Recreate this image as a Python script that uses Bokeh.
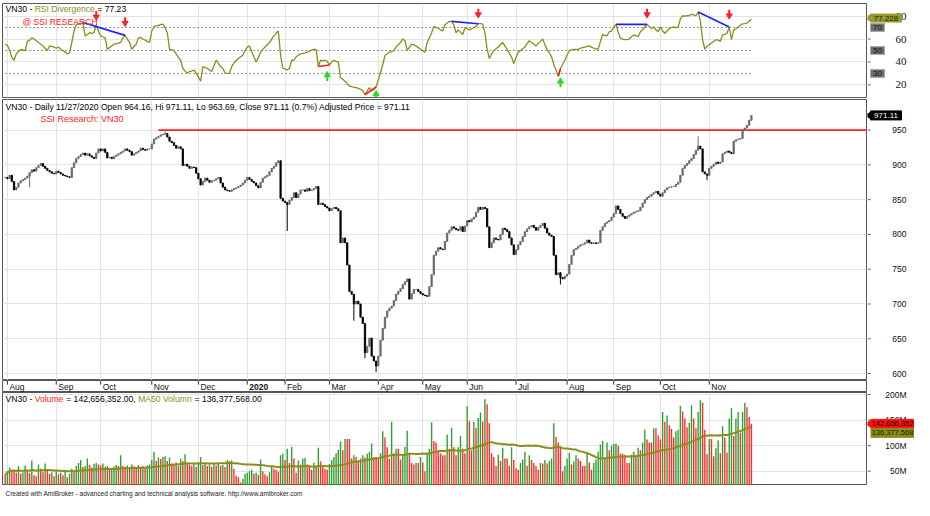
import numpy as np
import pandas as pd
from bokeh.plotting import figure
from bokeh.layouts import column, row
from bokeh.models import Range1d, FixedTicker, Label, Grid, ColumnDataSource
from bokeh.core.properties import value
from bokeh.embed import file_html
from bokeh.resources import INLINE

# ---------------- data ----------------
first_day, last_day = "2019-07-31", "2020-11-27"
holidays = ["2019-09-02", "2020-01-01", "2020-01-23", "2020-01-24", "2020-01-27",
            "2020-01-28", "2020-01-29", "2020-04-02", "2020-04-30", "2020-05-01", "2020-09-02"]

close = [882, 880, 885, 876, 864, 868, 874, 877, 879, 881,
         884, 889, 893, 891, 896, 899, 902, 898, 895, 892,
         890, 888, 887, 891, 889, 887, 885, 884, 883, 882,
         896, 903, 909, 912, 915, 917, 914, 916, 913, 911,
         909, 917, 923, 920, 923, 918, 910, 911, 909, 912,
         914, 916, 918, 920, 923, 921, 919, 914, 916, 918,
         920, 924, 922, 921, 923, 923, 930, 937, 939, 941,
         943, 944, 945, 940, 934, 932, 928, 924, 926, 923,
         899, 901, 898, 895, 897, 896, 888, 880, 871, 876,
         881, 878, 875, 877, 878, 880, 882, 874, 868, 864,
         863, 862, 864, 866, 867, 869, 871, 874, 878, 882,
         879, 876, 874, 870, 867, 875, 881, 883, 885, 890,
         895, 898, 903, 906, 852, 848, 846, 843, 849, 853,
         860, 853, 858, 864, 864, 862, 866, 863, 864, 866,
         869, 843, 845, 843, 840, 838, 834, 837, 839, 837,
         834, 788, 795, 788, 756, 718, 714, 700, 704, 700,
         681, 672, 630, 639, 651, 625, 618, 611, 625, 648,
         665, 681, 690, 694, 697, 705, 714, 718, 722, 728,
         732, 736, 707, 715, 721, 721, 718, 715, 713, 712,
         711, 725, 742, 770, 776, 781, 779, 778, 790, 802,
         806, 811, 809, 807, 806, 811, 804, 812, 820, 818,
         822, 825, 832, 839, 836, 839, 837, 811, 781, 788,
         795, 793, 792, 800, 809, 807, 804, 795, 785, 771,
         778, 785, 790, 797, 804, 808, 811, 813, 810, 806,
         810, 813, 816, 809, 802, 799, 797, 770, 742, 745,
         738, 736, 740, 743, 757, 770, 778, 780, 783, 785,
         786, 788, 792, 788, 787, 788, 787, 788, 806, 811,
         816, 818, 820, 825, 830, 841, 836, 830, 826, 823,
         826, 828, 830, 832, 833, 834, 839, 845, 850, 853,
         855, 858, 860, 862, 858, 855, 860, 864, 867, 868,
         869, 869, 872, 875, 885, 895, 899, 902, 906, 909,
         915, 921, 927, 923, 890, 887, 885, 895, 898, 901,
         904, 902, 904, 916, 918, 920, 918, 916, 934, 936,
         937, 938, 950, 953, 957, 964.4, 971.11]

# visible wick extremes (index -> price)
low_spikes = {11: 868, 127: 805, 157: 676, 162: 622, 167: 602, 250: 728, 316: 878}
high_spikes = {72: 948, 312: 941}

last_open, last_high, last_low, last_close = 964.16, 971.11, 963.69, 971.11
last_change_pct = 0.7

volume_m = [44, 50, 57, 53, 52, 47, 60, 45, 48, 61,
            50, 46, 71, 42, 40, 63, 55, 48, 65, 52,
            45, 48, 40, 50, 44, 47, 42, 49, 38, 45,
            55, 52, 60, 66, 72, 58, 60, 75, 62, 57,
            64, 66, 63, 61, 65, 58, 60, 54, 56, 59,
            62, 60, 81, 60, 58, 61, 57, 63, 59, 55,
            62, 58, 60, 57, 61, 63, 72, 88, 70, 77,
            74, 78, 79, 70, 77, 65, 62, 67, 60, 75,
            70, 83, 66, 62, 60, 64, 58, 68, 78, 62,
            66, 60, 63, 58, 64, 61, 66, 60, 62, 58,
            72, 70, 71, 55, 41, 38, 28, 35, 45, 47,
            50, 53, 45, 47, 43, 73, 50, 44, 40, 48,
            58, 55, 53, 49, 81, 84, 72, 94, 66, 98,
            75, 47, 71, 63, 75, 76, 63, 58, 53, 67,
            60, 96, 69, 62, 55, 53, 64, 72, 78, 85,
            92, 108, 91, 113, 113, 113, 75, 81, 78, 70,
            75, 81, 77, 84, 88, 104, 78, 78, 75, 85,
            128, 116, 97, 75, 147, 85, 94, 94, 73, 80,
            98, 129, 85, 66, 63, 66, 66, 78, 67, 50,
            85, 94, 146, 109, 106, 90, 85, 81, 81, 122,
            94, 135, 97, 81, 97, 119, 94, 85, 177, 148,
            91, 147, 135, 154, 165, 147, 191, 181, 144, 85,
            78, 60, 82, 70, 96, 75, 75, 60, 97, 72,
            56, 53, 66, 73, 88, 60, 81, 72, 66, 60,
            53, 66, 65, 72, 65, 70, 75, 144, 117, 106,
            97, 50, 60, 75, 86, 63, 69, 81, 75, 70,
            60, 60, 85, 67, 53, 66, 73, 88, 102, 109,
            75, 106, 91, 100, 103, 104, 100, 84, 84, 82,
            66, 66, 82, 88, 80, 96, 91, 106, 131, 112,
            106, 106, 134, 134, 120, 112, 166, 147, 159, 140,
            133, 116, 128, 131, 178, 167, 153, 136, 145, 179,
            153, 134, 166, 189, 184, 131, 83, 113, 113, 79,
            95, 110, 85, 138, 116, 86, 153, 173, 119, 153,
            166, 125, 166, 184, 175, 156, 142.656352]
ma50_last = 136377568

rsi = [55.6, 54.5, 50, 44, 41.5, 47, 49, 51, 50.5, 50,
       58, 59, 61, 60, 58.5, 57, 55.5, 54, 52, 50,
       54, 53.5, 53, 52, 53, 51, 50, 48.6, 47, 48,
       57, 67, 72.5, 73.5, 73, 74.5, 62.7, 64, 65.5, 65,
       65.5, 72.5, 67, 62.7, 62, 61, 51, 52.5, 54, 55.6,
       56, 56.5, 57, 61, 63.2, 60, 57, 51, 53.5, 55.6,
       61, 61.5, 60, 59, 58, 57, 67, 71, 71.5, 72,
       72.5, 73, 70, 65.5, 51, 50.5, 50, 47, 44, 41.5,
       34.5, 32, 30.3, 31.7, 32, 33, 30.3, 27, 23.2, 36,
       35, 34.5, 33, 31.7, 37, 41.5, 38.7, 36, 34.5, 30.3,
       30, 30.3, 36, 39, 41.5, 43, 44.5, 45.8, 50, 53,
       54, 49, 44.4, 40, 44, 48.6, 51, 53, 55, 57,
       60, 62.7, 65, 67, 45.8, 34.5, 34, 33, 34.5, 41.5,
       41.5, 44.4, 46, 47, 47.5, 48, 48.6, 49.5, 50.5, 51,
       51, 36, 41.5, 41, 41.5, 40.5, 37.3, 40, 41.5, 40.5,
       40, 26, 25, 23.2, 21, 19, 18.5, 18, 17.6, 17,
       16.2, 15, 11.4, 14.8, 17.6, 14.8, 16, 18.2, 24.6, 31,
       37.3, 45.8, 47, 48.6, 49, 50, 53, 55, 57, 60,
       58.5, 50, 53, 55.6, 55, 54, 52.5, 51, 50, 48.6,
       57, 61, 65.5, 71, 70, 69.7, 68, 67, 72.5, 74,
       75.4, 75.4, 72.5, 65.5, 68, 66, 64, 69.7, 69, 68,
       69, 70, 71, 73.4, 73.5, 73, 65.5, 51, 43, 47,
       50, 51.5, 53, 55, 57, 54, 51, 47.5, 44.4, 38.7,
       44, 48.6, 50, 51.5, 53, 56, 58.5, 57, 55.6, 54,
       56, 58, 60, 55, 51, 48, 44.4, 38, 33, 27.5,
       34, 38, 41.5, 46, 50, 50.5, 51, 51, 51, 52,
       52.5, 53, 53.5, 54, 53, 52, 51.5, 51, 58, 64,
       63, 63, 66.4, 67, 70.5, 72.8, 66, 60.8, 60, 59.4,
       59.5, 60, 62, 63.6, 63, 62.2, 66.4, 68, 70.5, 72.8,
       71, 69.2, 70.5, 68, 66.4, 70.5, 67, 65, 67, 69.2,
       70, 70.5, 70, 70.5, 77.5, 80.3, 80, 80.5, 80.3, 81.7,
       81, 80.3, 83.6, 76, 59.4, 51.1, 53.9, 55, 56.5, 58,
       59.4, 59, 58, 63.6, 64, 65, 70.5, 59.4, 67.8, 69,
       70.5, 72, 73.3, 73.5, 73.9, 75.5, 77.228]

rsi_levels = [70, 50, 30]
rsi_ticks = [20, 40, 60, 80]
price_ticks = [600, 650, 700, 750, 800, 850, 900, 950]
vol_ticks = [50, 100, 150, 200]
vol_tick_labels = ["50M", "100M", "150M", "200M"]
month_labels = ["Aug", "Sep", "Oct", "Nov", "Dec", "2020", "Feb", "Mar", "Apr",
                "May", "Jun", "Jul", "Aug", "Sep", "Oct", "Nov"]

resistance_level, resistance_from = 950, 69
div_bear = [(35, 54), (201, 213), (275, 289), (312, 326)]   # blue
div_bull = [(141, 146), (162, 167), (249, 250)]              # red
sell_idx, sell_y = [41, 54, 213, 289, 326], [81, 75.5, 83, 83, 82]
buy_idx, buy_y = [145, 167, 250], [27, 10.5, 21.5]
rsi_tag_y = 78.3   # where the RSI value tag sits on the RSI scale
ma_tag_y = 125     # where the MA50 value tag sits on the volume scale

# ---------------- derived ----------------
n = len(close)
assert len(volume_m) == n and len(rsi) == n, (len(close), len(volume_m), len(rsi))
dates = pd.bdate_range(first_day, last_day, freq="C", holidays=holidays)
assert len(dates) == n, len(dates)
idx = np.arange(n)
month_idx = [i for i in range(1, n) if dates[i].month != dates[i - 1].month]

opens = [close[0]] + close[:-1]
opens[-1] = last_open
highs = [max(o, c) for o, c in zip(opens, close)]
lows = [min(o, c) for o, c in zip(opens, close)]
for k, v in high_spikes.items():
    highs[k] = v
for k, v in low_spikes.items():
    lows[k] = v
highs[-1], lows[-1] = last_high, last_low
candle_col = ["#6a6a6a" if c >= o else "#000000" for o, c in zip(opens, close)]

vol_col = ["#2f9e2f" if (i > 0 and volume_m[i] > volume_m[i - 1]) else "#ff2b2b" for i in range(n)]
ma50 = pd.Series(volume_m).rolling(50, min_periods=1).mean().values

# ---------------- styling helpers ----------------
W, LB, FW = 914, 2, 864
MAINW = LB + FW + 1
SIDEW = W - MAINW
SANS = "Liberation Sans"
OLIVE = "#8c8c1c"
GRID = "#e3e3e3"
EDGE = "#555555"
LABEL_X = 39
xr = Range1d(-1.2, 387.8)

AW = {' ': 278, '-': 333, '=': 584, '.': 278, ',': 278, '/': 278, ':': 278, '(': 333, ')': 333,
      '%': 889, '@': 1015, 'A': 667, 'B': 667, 'C': 722, 'D': 722, 'E': 667, 'F': 611, 'G': 778,
      'H': 722, 'I': 278, 'L': 556, 'M': 833, 'N': 722, 'O': 778, 'P': 667, 'R': 722, 'S': 667,
      'V': 667, 'a': 556, 'b': 556, 'c': 500, 'd': 556, 'e': 556, 'g': 556, 'h': 556, 'i': 222,
      'j': 222, 'l': 222, 'm': 833, 'n': 556, 'o': 556, 'p': 556, 'r': 333, 's': 500, 't': 278,
      'u': 556, 'v': 500, 'y': 500}


def tw(s, size):
    return sum(AW.get(ch, 556) for ch in s) / 1000.0 * size


def header(p, segs, x0, y, size):
    x = x0
    for t, col in segs:
        lead = len(t) - len(t.lstrip(" "))
        core = t.strip(" ")
        if core:
            p.add_layout(Label(x=x + tw(" " * lead, size), y=y, x_units="screen", y_units="screen",
                               text=core, text_color=col, text_font=SANS,
                               text_font_size=f"{size}px", text_baseline="middle", text_align="left"))
        x += tw(t, size)


def base(width, height, x_range, y_range, top, bottom, left=0, right=0):
    p = figure(width=width, height=height, x_range=x_range, y_range=y_range, x_axis_location=None,
               y_axis_location=None, toolbar_location=None, output_backend="svg",
               min_border_left=left, min_border_right=right, min_border_top=top,
               min_border_bottom=bottom, background_fill_color="white", border_fill_color="white")
    p.grid.visible = False
    return p


def main_panel(h, yr, ticks, top=0, bottom=0):
    p = base(MAINW, h, xr, yr, top, bottom, left=LB, right=1)
    p.outline_line_color = EDGE
    p.add_layout(Grid(dimension=1, ticker=FixedTicker(ticks=ticks), grid_line_color=GRID))
    p.add_layout(Grid(dimension=0, ticker=FixedTicker(ticks=month_idx), grid_line_color=GRID))
    return p


def side_panel(h, yr, ticks, labels, top=0, bottom=0, font=SANS, size="8.5px"):
    s = base(SIDEW, h, Range1d(0, SIDEW), yr, top, bottom)
    s.outline_line_color = None
    s.segment(x0=[0] * len(ticks), x1=[3] * len(ticks), y0=ticks, y1=ticks, line_color=EDGE)
    s.text(x=[LABEL_X] * len(ticks), y=ticks, text=labels, text_align="right",
           text_baseline="middle", text_font=value(font), text_font_size=size,
           text_color="#111111")
    return s


def tag(s, y, text, cx, w, h, bg, fg, size="8px", border=None, arrow_y=None):
    if arrow_y is not None:
        s.scatter([1.6], [arrow_y], marker="triangle", angle=np.pi / 2, size=7,
                  fill_color=bg, line_color=bg)
    s.rect(x=[cx], y=[y], width=w, height=h, height_units="screen", fill_color=bg,
           line_color=border or bg)
    s.text(x=[cx], y=[y], text=[text], text_align="center", text_baseline="middle",
           text_font=value(SANS), text_font_size=size, text_color=fg)


# ---------------- RSI panel ----------------
ry = Range1d(9, 91)
pr = main_panel(98, ry, rsi_ticks, top=3, bottom=1)
pr.segment(x0=[0] * 3, x1=[n - 1] * 3, y0=rsi_levels, y1=rsi_levels, line_color="#8c8c8c",
           line_dash="2 2", line_width=1)
pr.line(idx, rsi, line_color=OLIVE, line_width=1.3)
pr.segment(x0=[a for a, b in div_bear], y0=[rsi[a] for a, b in div_bear],
           x1=[b for a, b in div_bear], y1=[rsi[b] for a, b in div_bear],
           line_color="#1f1fff", line_width=1.6)
pr.segment(x0=[a for a, b in div_bull], y0=[rsi[a] for a, b in div_bull],
           x1=[b for a, b in div_bull], y1=[rsi[b] for a, b in div_bull],
           line_color="#ff1f1f", line_width=1.6)
pr.segment(x0=sell_idx, x1=sell_idx, y0=[y - 0.5 for y in sell_y], y1=[y + 3.5 for y in sell_y],
           line_color="#ff2020", line_width=2)
pr.scatter(sell_idx, [y - 1.6 for y in sell_y], marker="inverted_triangle", size=6,
           fill_color="#ff2020", line_color="#ff2020")
pr.segment(x0=buy_idx, x1=buy_idx, y0=[y + 0.5 for y in buy_y], y1=[y - 3.5 for y in buy_y],
           line_color="#22dd22", line_width=2)
pr.scatter(buy_idx, [y + 1.6 for y in buy_y], marker="triangle", size=6,
           fill_color="#22dd22", line_color="#22dd22")
header(pr, [("VN30 - ", "#000000"), ("RSI Divergence", OLIVE), (f" = {rsi[-1]:.2f}", "#000000")],
       3, 94 - 5, 8.6)
pr.add_layout(Label(x=20, y=94 - 18, x_units="screen", y_units="screen", text="@ SSI RESEARCH",
                    text_color="#ff2020", text_font=SANS, text_font_size="8.6px",
                    text_baseline="middle"))
sr = side_panel(98, ry, rsi_ticks, [str(t) for t in rsi_ticks], top=3, bottom=1,
                font="Liberation Serif", size="11px")
for lv in rsi_levels:
    tag(sr, lv, str(lv), 10, 14, 8, "#707070", "#111111", size="8px", border="#a8a8a8")
tag(sr, rsi_tag_y, f"{rsi[-1]:.3f}", 18.5, 31, 8, "#9a9a2a", "#1a1a00", arrow_y=rsi_tag_y)

# ---------------- price panel ----------------
py = Range1d(590, 994)
pp = main_panel(282, py, price_ticks, top=1, bottom=0)
src = ColumnDataSource(dict(x=idx, h=highs, l=lows, top=np.maximum(opens, close),
                            bot=np.minimum(opens, close), col=candle_col))
pp.segment(x0=[resistance_from], x1=[xr.end], y0=[resistance_level], y1=[resistance_level],
           line_color="#ff2020", line_width=1.6)
pp.segment(x0="x", y0="l", x1="x", y1="h", line_color="col", line_width=1, source=src)
pp.vbar(x="x", top="top", bottom="bot", width=0.6, fill_color="col", line_color="col",
        line_width=0.8, source=src)
header(pp, [(f"VN30 - Daily {dates[-1].strftime('%m/%d/%Y')} Open {last_open:.2f}, Hi {last_high:.2f}, "
             f"Lo {last_low:.2f}, Close {last_close:.2f} ({last_change_pct:.1f}%) "
             f"Adjusted Price = {last_close:.2f}", "#000000")], 3, 281 - 7, 8.6)
pp.add_layout(Label(x=38, y=281 - 19.5, x_units="screen", y_units="screen", text="SSI Research: VN30",
                    text_color="#ff2020", text_font=SANS, text_font_size="9px",
                    text_baseline="middle"))
sp = side_panel(282, py, price_ticks, [str(t) for t in price_ticks], top=1, bottom=0)
tag(sp, last_close, f"{last_close:.2f}", 18.5, 31, 9, "#000000", "#ffffff", arrow_y=last_close)

# ---------------- date strip ----------------
STRIP_H, VOL_H = 12, 93
ps = base(MAINW, STRIP_H, xr, Range1d(0, 1), 0, 0, left=LB, right=1)
ps.outline_line_color = EDGE
norm = [(m, t) for m, t in zip(month_idx, month_labels) if not t.isdigit()]
bold = [(m, t) for m, t in zip(month_idx, month_labels) if t.isdigit()]
ps.text(x=[m for m, t in norm], y=[0.45] * len(norm), text=[t for m, t in norm], x_offset=2,
        text_font=value(SANS), text_font_size="8.5px", text_baseline="middle", text_color="#111111")
ps.text(x=[m for m, t in bold], y=[0.45] * len(bold), text=[t for m, t in bold], x_offset=2,
        text_font=value(SANS), text_font_size="8.5px", text_font_style="bold",
        text_baseline="middle", text_color="#111111")
ps.segment(x0=month_idx, x1=month_idx, y0=[1] * len(month_idx), y1=[0.65] * len(month_idx),
           line_color="#333333", line_width=1)

# ---------------- volume panel ----------------
vy = Range1d(22, 204)
pv = main_panel(VOL_H, vy, vol_ticks)
pv.vbar(x=idx, top=volume_m, bottom=vy.start, width=0.62, fill_color=vol_col, line_color=None)
pv.line(idx, ma50, line_color=OLIVE, line_width=2)
header(pv, [("VN30 - ", "#000000"), ("Volume", "#ff2020"),
            (f" = {volume_m[-1] * 1e6:,.2f}, ", "#000000"), ("MA50 Volumn", OLIVE),
            (f" = {ma50_last:,.2f}", "#000000")], 3, VOL_H - 6, 8.6)
# the side scale also spans the date strip, so the top label is not clipped
per_px = (vy.end - vy.start) / VOL_H
vy_side = Range1d(vy.start, vy.end + STRIP_H * per_px)
sv = side_panel(STRIP_H + VOL_H, vy_side, vol_ticks, vol_tick_labels)
tag(sv, volume_m[-1], f"{volume_m[-1] * 1e6:,.0f}", 25, 43, 9, "#ff1010", "#1a0000",
    size="7.5px", arrow_y=volume_m[-1])
tag(sv, ma_tag_y, f"{ma50_last:,.0f}", 25, 43, 9, "#8c8c1c", "#1a1a00", size="7.5px")

# ---------------- footer ----------------
pf = base(W, 15, Range1d(0, 1), Range1d(0, 1), 0, 0)
pf.outline_line_color = None
pf.text(x=[0], y=[0.5], text=["Created with AmiBroker - advanced charting and technical analysis "
                              "software. http://www.amibroker.com"], x_offset=5,
        text_font=value(SANS), text_font_size="6.5px", text_baseline="middle", text_color="#222222")

layout = column(row(pr, sr, spacing=0), row(pp, sp, spacing=0),
                row(column(ps, pv, spacing=0), sv, spacing=0), pf, spacing=0)
open("out.html", "w").write(file_html(layout, INLINE))
